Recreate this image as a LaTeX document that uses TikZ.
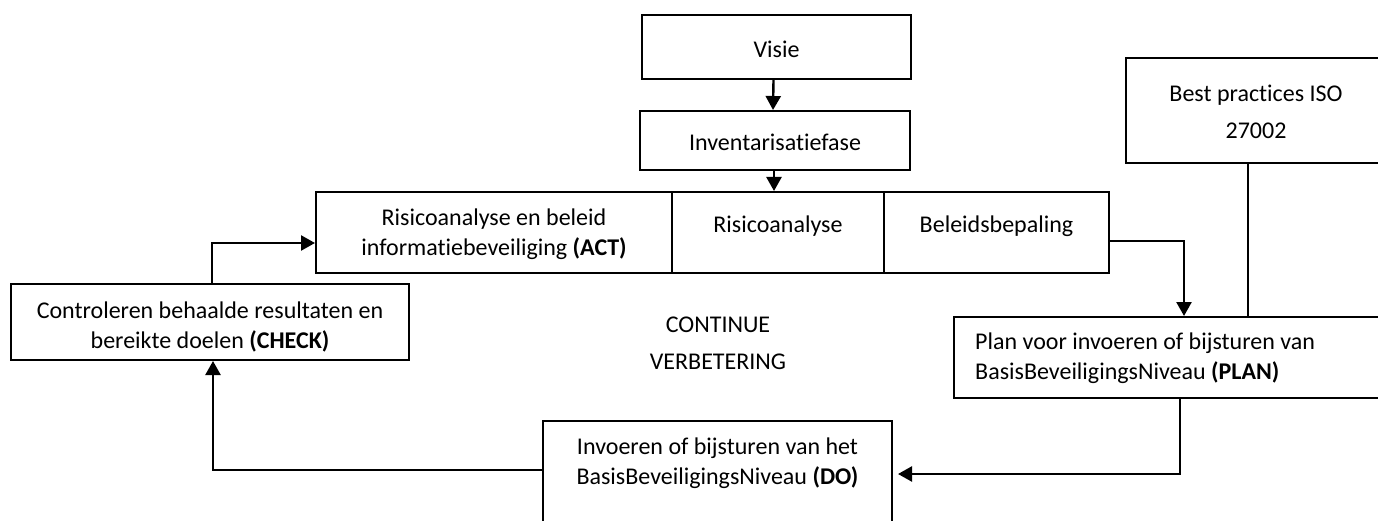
\documentclass[tikz,border=0pt]{standalone}
\usepackage{fontspec}
\setmainfont{Carlito}[Ligatures=NoCommon]
\usetikzlibrary{arrows.meta,calc}
\begin{document}
\begin{tikzpicture}[x=1pt,y=-1pt,
  box/.style={draw,line width=2pt,rectangle,inner sep=0pt},
  txt/.style={inner sep=0pt,align=center,font=\fontsize{24}{29.5}\selectfont},
  wide/.style={inner sep=0pt,align=center,font=\fontsize{24}{37}\selectfont},
  conn/.style={line width=2.4pt},
  arr/.style={conn,-{Triangle[width=15pt,length=14pt]}}]
\useasboundingbox (0,0) rectangle (1378,521);
% boxes
\node[box,minimum width=269pt,minimum height=64pt] (visie) at (776.5,47) {};
\node[box,minimum width=270pt,minimum height=59pt] (inv) at (775,140.5) {};
\node[box,minimum width=356pt,minimum height=81pt] (act) at (494,232.5) {};
\node[box,minimum width=212pt,minimum height=81pt] (risico) at (778,232.5) {};
\node[box,minimum width=225pt,minimum height=81pt] (beleid) at (996.5,232.5) {};
\node[box,minimum width=264pt,minimum height=105pt] (best) at (1258,110.5) {};
\node[box,minimum width=436pt,minimum height=81pt] (plan) at (1172,357.5) {};
\node[box,minimum width=349pt,minimum height=120pt] (do) at (717.5,481) {};
\node[box,minimum width=398pt,minimum height=76pt] (check) at (210,322) {};
% texts
\node[txt] (tvisie) at (776.5,49) {Visie};
\node[txt] (tinv) at (775,142) {Inventarisatiefase};
\node[txt] (tact) at (494,234) {Risicoanalyse en beleid\\informatiebeveiliging \textbf{(ACT)}};
\node[txt] (trisico) at (778,226) {Risicoanalyse};
\node[txt] (tbeleid) at (996.5,226) {Beleidsbepaling};
\node[wide] (tbest) at (1256,111.5) {Best practices ISO\\27002};
\node[txt,align=left,anchor=west] (tplan) at (975,358) {Plan voor invoeren of bijsturen van\\BasisBeveiligingsNiveau \textbf{(PLAN)}};
\node[txt] (tdo) at (717.5,463) {Invoeren of bijsturen van het\\BasisBeveiligingsNiveau \textbf{(DO)}};
\node[txt] (tcheck) at (210,327) {Controleren behaalde resultaten en\\bereikte doelen \textbf{(CHECK)}};
\node[wide] (tcont) at (718,343.5) {CONTINUE\\VERBETERING};
% connectors
\coordinate (c1) at (1184,241);
\coordinate (c2) at (1180,474);
\coordinate (c3) at (213,470);
\coordinate (c4) at (212,243);
\coordinate (c5) at (1248,200);
\draw[arr] ($(visie.south)+(-3,0)$) -- ($(inv.north)+(-2,0)$);
\draw[arr] ($(inv.south)+(-1,0)$) -- ($(risico.north)+(-4,0)$);
\draw[arr] (beleid.east |- c1) -- (c1) -- (c1 |- plan.north);
\draw[conn] (c5 |- best.south) -- (c5 |- plan.north);
\draw[arr,shorten >=5pt] (c2 |- plan.south) -- (c2) -- (do.east |- c2);
\draw[arr] (do.west |- c3) -- (c3) -- (c3 |- check.south);
\draw[arr] (c4 |- check.north) -- (c4) -- (act.west |- c4);
\end{tikzpicture}
\end{document}
